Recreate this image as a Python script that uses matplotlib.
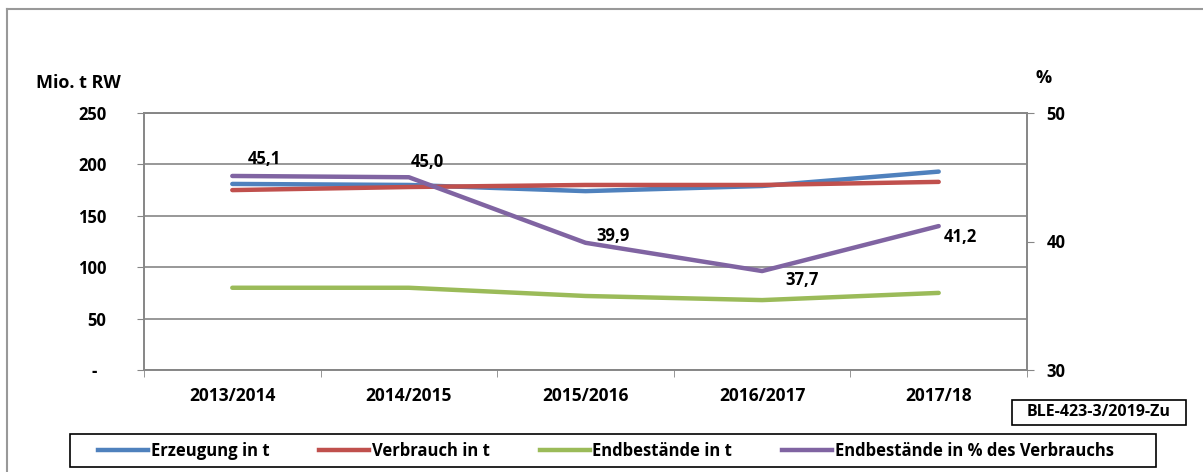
import numpy as np
import matplotlib.pyplot as plt
from matplotlib.lines import Line2D
from matplotlib.patches import Rectangle

plt.rcParams['font.family'] = ['Open Sans', 'DejaVu Sans']
plt.rcParams['font.weight'] = 'bold'

# Werte
jahre = ['2013/2014', '2014/2015', '2015/2016', '2016/2017', '2017/18']
erzeugung = [181, 180, 174, 179, 193]
verbrauch = [175, 178, 180, 180, 183]
endbestand = [80, 80, 72, 68, 75]
endbestand_proz = [45.1, 45.0, 39.9, 37.7, 41.2]
proz_labels = ['45,1', '45,0', '39,9', '37,7', '41,2']

W, H = 1203, 472
fig = plt.figure(figsize=(W/100, H/100), dpi=100)

ax = fig.add_axes([144/W, (H-370)/H, (1027-144)/W, 257/H])
ax2 = ax.twinx()

x = np.arange(len(jahre))
grey = '#868686'
farben = ['#4F81BD', '#C0504D', '#9BBB59', '#8064A2']

ax.plot(x, erzeugung, color=farben[0], lw=3.2, solid_capstyle='round')
ax.plot(x, verbrauch, color=farben[1], lw=3.2, solid_capstyle='round')
ax.plot(x, endbestand, color=farben[2], lw=3.2, solid_capstyle='round')
ax2.plot(x, endbestand_proz, color=farben[3], lw=3.2, solid_capstyle='round')

# Datenbeschriftung (Versatz in Punkten)
offsets = [(11, 12), (1.5, 11), (8, 5), (16.5, -6.5), (3.5, -8)]
for i in range(len(x)):
    ax2.annotate(proz_labels[i], (x[i], endbestand_proz[i]), xytext=offsets[i],
                 textcoords='offset points', ha='left', va='center',
                 fontsize=12, fontweight='bold')

# linke Achse
ax.set_xlim(-0.5, len(jahre) - 0.5)
ax.set_ylim(0, 250)
ax.set_yticks([0, 50, 100, 150, 200, 250])
ax.set_yticklabels(['-  ', '50', '100', '150', '200', '250'])
ax.yaxis.grid(True, color=grey, lw=1.2)
ax.set_axisbelow(True)
ax.set_xticks(x)
ax.set_xticklabels(jahre)
ax.set_xticks(np.arange(-0.5, len(jahre)), minor=True)
ax.tick_params(axis='x', which='major', length=0, pad=12, labelsize=12.5)
ax.tick_params(axis='x', which='minor', length=5, color=grey, direction='out')
ax.tick_params(axis='y', length=5, color=grey, pad=22, labelsize=12)

# rechte Achse
ax2.set_ylim(30, 50)
ax2.set_yticks([30, 40, 50])
ax2.tick_params(axis='y', length=5, color=grey, pad=9, labelsize=12)

for a in (ax, ax2):
    for s in a.spines.values():
        s.set_color(grey)
        s.set_linewidth(1.2)

fig.text(36/W, 1-83/H, 'Mio. t RW', fontsize=13, fontweight='bold', va='center')
fig.text(1036/W, 1-78/H, '%', fontsize=13, fontweight='bold', va='center')

# Quelle
fig.add_artist(Rectangle((1012/W, 1-425/H), 174/W, 25/H, fill=False,
                         ec='black', lw=1.2, transform=fig.transFigure))
fig.text(1099/W, 1-412.5/H, 'BLE-423-3/2019-Zu', fontsize=11.5, fontweight='bold',
         ha='center', va='center')

# Legende
handles = [Line2D([], [], color=c, lw=3.2) for c in farben]
names = ['Erzeugung in t', 'Verbrauch in t', 'Endbestände in t', 'Endbestände in % des Verbrauchs']
fig.add_artist(Rectangle((70/W, 1-467/H), (1156-70)/W, 33/H, fill=False,
                         ec='black', lw=1.2, transform=fig.transFigure))
fig.legend(handles, names, loc='center', ncol=4, bbox_to_anchor=(606/W, 1-450.5/H),
           frameon=False, borderaxespad=0, borderpad=0,
           handlelength=3.0, handletextpad=0.15, columnspacing=3.0,
           prop={'size': 12, 'weight': 'bold'})

# Rahmen
fig.add_artist(Line2D([7/W, 7/W], [0, 1-9/H], color='#999999', lw=1.5))
fig.add_artist(Line2D([7/W, 1], [1-9/H, 1-9/H], color='#999999', lw=1.5))

fig.savefig('out.png', dpi=100)
